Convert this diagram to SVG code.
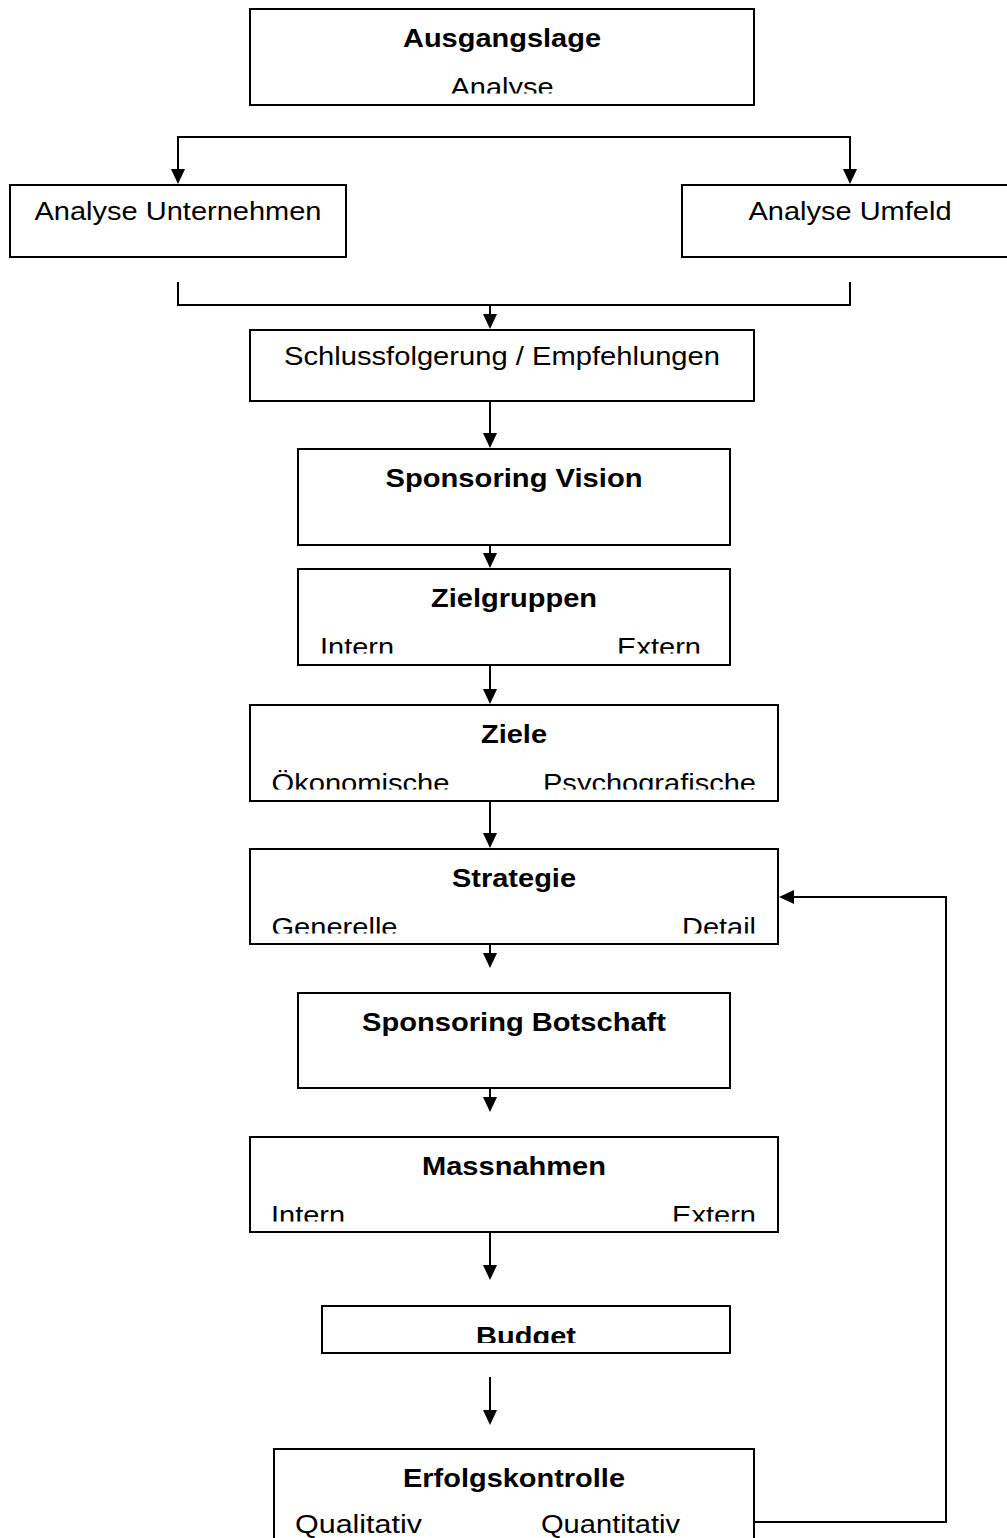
<svg xmlns="http://www.w3.org/2000/svg" width="1007" height="1538" viewBox="0 0 1007 1538">
<style>
.box{fill:#fff;stroke:#000;stroke-width:2}
.t{font-family:"Liberation Sans",Arial,sans-serif;font-size:26px;fill:#000}
.b{font-weight:bold}
.m{text-anchor:middle}
.e{text-anchor:end}
.c{fill:none;stroke:#000;stroke-width:2}
</style>
<defs>
<marker id="ah" markerWidth="15" markerHeight="14" refX="11" refY="7" orient="auto" markerUnits="userSpaceOnUse"><path d="M0,0 L15,7 L0,14 z" fill="#000"/></marker>
<clipPath id="k1"><rect x="250" y="9" width="504" height="84.5"/></clipPath>
<clipPath id="k6"><rect x="298" y="569" width="432" height="84.5"/></clipPath>
<clipPath id="k7"><rect x="250" y="705" width="528" height="84.5"/></clipPath>
<clipPath id="k8"><rect x="250" y="849" width="528" height="84.5"/></clipPath>
<clipPath id="k10"><rect x="250" y="1137" width="528" height="84.5"/></clipPath>
<clipPath id="k11"><rect x="322" y="1306" width="408" height="37"/></clipPath>
</defs>
<g id="connectors">
<path class="c" d="M514,137 H178 V180" marker-end="url(#ah)"/>
<path class="c" d="M514,137 H850 V180" marker-end="url(#ah)"/>
<path class="c" d="M178,282 V305 H850 V282"/>
<path class="c" d="M490,305 V325" marker-end="url(#ah)"/>
<path class="c" d="M490,401 V444" marker-end="url(#ah)"/>
<path class="c" d="M490,545 V564" marker-end="url(#ah)"/>
<path class="c" d="M490,665 V700" marker-end="url(#ah)"/>
<path class="c" d="M490,801 V844" marker-end="url(#ah)"/>
<path class="c" d="M490,944 V964" marker-end="url(#ah)"/>
<path class="c" d="M490,1088 V1108" marker-end="url(#ah)"/>
<path class="c" d="M490,1232 V1276" marker-end="url(#ah)"/>
<path class="c" d="M490,1377 V1421" marker-end="url(#ah)"/>
<path class="c" d="M754,1522 H946 V897 H783" marker-end="url(#ah)"/>
</g>
<g id="n-ausgangslage">
<rect class="box" x="250" y="9" width="504" height="96"/>
<text class="t b m" x="502" y="47" textLength="198" lengthAdjust="spacingAndGlyphs">Ausgangslage</text>
<text class="t m" x="502" y="95.5" textLength="103" lengthAdjust="spacingAndGlyphs" clip-path="url(#k1)">Analyse</text>
</g>
<g id="n-analyse-unternehmen">
<rect class="box" x="10" y="185" width="336" height="72"/>
<text class="t m" x="178" y="220" textLength="287" lengthAdjust="spacingAndGlyphs">Analyse Unternehmen</text>
</g>
<g id="n-analyse-umfeld">
<rect class="box" x="682" y="185" width="336" height="72"/>
<text class="t m" x="850" y="220" textLength="203" lengthAdjust="spacingAndGlyphs">Analyse Umfeld</text>
</g>
<g id="n-schlussfolgerung">
<rect class="box" x="250" y="330" width="504" height="71"/>
<text class="t m" x="502" y="365" textLength="436" lengthAdjust="spacingAndGlyphs">Schlussfolgerung / Empfehlungen</text>
</g>
<g id="n-vision">
<rect class="box" x="298" y="449" width="432" height="96"/>
<text class="t b m" x="514" y="487" textLength="257" lengthAdjust="spacingAndGlyphs">Sponsoring Vision</text>
</g>
<g id="n-zielgruppen">
<rect class="box" x="298" y="569" width="432" height="96"/>
<text class="t b m" x="514" y="607" textLength="166" lengthAdjust="spacingAndGlyphs">Zielgruppen</text>
<g clip-path="url(#k6)">
<text class="t" x="320" y="655.5" textLength="74" lengthAdjust="spacingAndGlyphs">Intern</text>
<text class="t e" x="701" y="655.5" textLength="84" lengthAdjust="spacingAndGlyphs">Extern</text>
</g>
</g>
<g id="n-ziele">
<rect class="box" x="250" y="705" width="528" height="96"/>
<text class="t b m" x="514" y="743" textLength="66" lengthAdjust="spacingAndGlyphs">Ziele</text>
<g clip-path="url(#k7)">
<text class="t" x="271.5" y="792" textLength="178" lengthAdjust="spacingAndGlyphs">Ökonomische</text>
<text class="t e" x="756" y="792" textLength="213" lengthAdjust="spacingAndGlyphs">Psychografische</text>
</g>
</g>
<g id="n-strategie">
<rect class="box" x="250" y="849" width="528" height="95"/>
<text class="t b m" x="514" y="887" textLength="124" lengthAdjust="spacingAndGlyphs">Strategie</text>
<g clip-path="url(#k8)">
<text class="t" x="271.5" y="936" textLength="126" lengthAdjust="spacingAndGlyphs">Generelle</text>
<text class="t e" x="756" y="936" textLength="74" lengthAdjust="spacingAndGlyphs">Detail</text>
</g>
</g>
<g id="n-botschaft">
<rect class="box" x="298" y="993" width="432" height="95"/>
<text class="t b m" x="514" y="1031" textLength="304" lengthAdjust="spacingAndGlyphs">Sponsoring Botschaft</text>
</g>
<g id="n-massnahmen">
<rect class="box" x="250" y="1137" width="528" height="95"/>
<text class="t b m" x="514" y="1175" textLength="184" lengthAdjust="spacingAndGlyphs">Massnahmen</text>
<g clip-path="url(#k10)">
<text class="t" x="271" y="1224" textLength="74" lengthAdjust="spacingAndGlyphs">Intern</text>
<text class="t e" x="756" y="1224" textLength="84" lengthAdjust="spacingAndGlyphs">Extern</text>
</g>
</g>
<g id="n-budget">
<rect class="box" x="322" y="1306" width="408" height="47"/>
<text class="t b m" x="526" y="1345" textLength="100" lengthAdjust="spacingAndGlyphs" clip-path="url(#k11)">Budget</text>
</g>
<g id="n-erfolgskontrolle">
<rect class="box" x="274" y="1449" width="480" height="120"/>
<text class="t b m" x="514" y="1487" textLength="222" lengthAdjust="spacingAndGlyphs">Erfolgskontrolle</text>
<text class="t" x="295" y="1533" textLength="127" lengthAdjust="spacingAndGlyphs">Qualitativ</text>
<text class="t" x="541" y="1533" textLength="139" lengthAdjust="spacingAndGlyphs">Quantitativ</text>
</g>
</svg>
